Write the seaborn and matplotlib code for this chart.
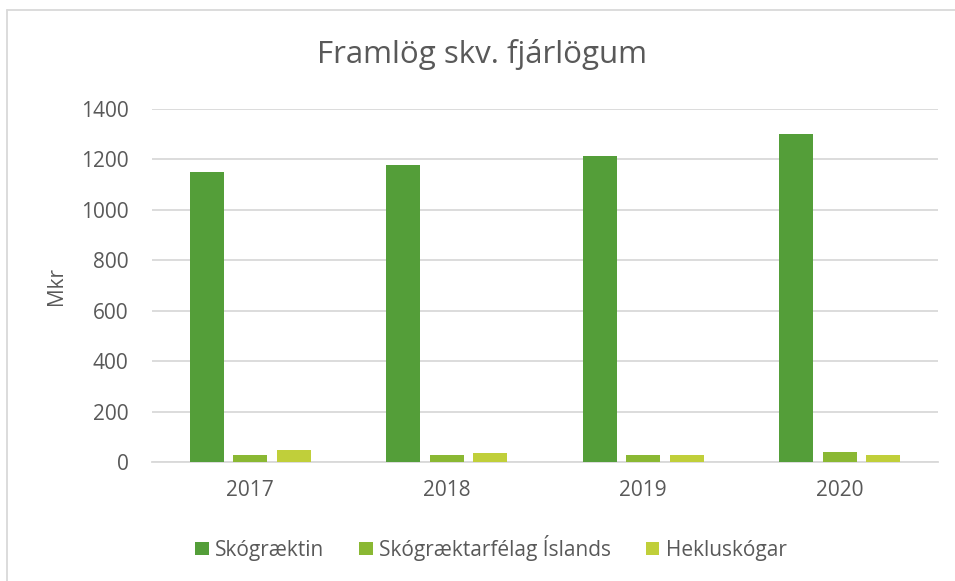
import matplotlib
matplotlib.use("Agg")
import matplotlib.pyplot as plt
from matplotlib.lines import Line2D
import seaborn as sns
import pandas as pd

# values (Mkr)
years = ["2017", "2018", "2019", "2020"]
series = ["Skógræktin", "Skógræktarfélag Íslands", "Hekluskógar"]
skograektin = [1150, 1177, 1215, 1302]
skograektarfelag = [30, 30, 30, 42]
hekluskogar = [50, 36, 30, 30]
colors = ["#549E39", "#8AB833", "#C0CF3A"]

sns.set_theme(style="white")
plt.rcParams["font.family"] = ["Open Sans", "DejaVu Sans"]
text_col = "#595959"
grid_col = "#D9D9D9"

df = pd.DataFrame({
    "year": years * 3,
    "series": [series[0]] * 4 + [series[1]] * 4 + [series[2]] * 4,
    "value": skograektin + skograektarfelag + hekluskogar,
})

fig = plt.figure(figsize=(9.55, 5.81), dpi=100)
ax = fig.add_axes([152 / 955, 1 - 462.3 / 581, (938 - 152) / 955, (462.3 - 109) / 581])

sns.barplot(data=df, x="year", y="value", hue="series", order=years,
            hue_order=series, palette=colors, width=0.666, gap=0.22,
            saturation=1, errorbar=None, linewidth=0, ax=ax, zorder=3)

ax.set_ylim(0, 1400)
ax.set_xlim(-0.5, 3.5)
ax.set_yticks(range(0, 1401, 200))
ax.yaxis.grid(True, color=grid_col, linewidth=1.3, zorder=0)
ax.set_axisbelow(True)
for side in ["left", "right", "top"]:
    ax.spines[side].set_visible(False)
ax.spines["bottom"].set_color(grid_col)
ax.spines["bottom"].set_linewidth(1.3)
ax.tick_params(axis="y", length=0, pad=17, labelsize=15, labelcolor=text_col)
ax.tick_params(axis="x", length=0, pad=13, labelsize=15, labelcolor=text_col)
ax.set_xlabel("")
ax.set_ylabel("Mkr", fontsize=15, color=text_col)
ax.yaxis.set_label_coords((57 - 152) / 786, 0.5)
ax.yaxis.label.set_va("center")

fig.text(482 / 955, 1 - 55 / 581, "Framlög skv. fjárlögum", ha="center",
         va="center", fontsize=22.5, color=text_col)

handles, labels = ax.get_legend_handles_labels()
ax.legend_.remove()
fig.legend(handles, labels, loc="center", bbox_to_anchor=(491 / 955, 1 - 548 / 581),
           ncol=3, frameon=False, fontsize=15, labelcolor=text_col,
           handlelength=0.63, handleheight=0.63, handletextpad=0.3,
           columnspacing=1.7, borderaxespad=0)

# chart area border (left and top edges visible in the crop)
fig.add_artist(Line2D([6.5 / 955, 6.5 / 955], [0, 1 - 10 / 581], color=grid_col,
                      linewidth=1.3, transform=fig.transFigure))
fig.add_artist(Line2D([6.5 / 955, 1], [1 - 10 / 581, 1 - 10 / 581], color=grid_col,
                      linewidth=1.3, transform=fig.transFigure))

fig.savefig("out.png", dpi=100)
